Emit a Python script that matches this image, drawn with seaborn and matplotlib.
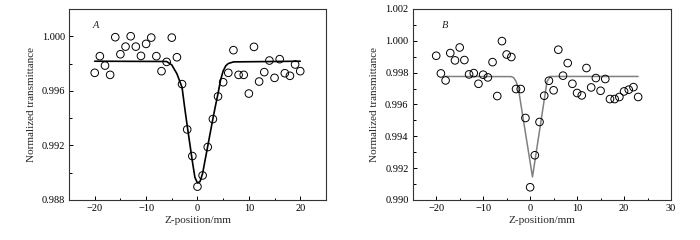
"""
Z-scan : transmittance normalisée, panneaux A et B
"""

import numpy as np
import pandas as pd
import matplotlib
matplotlib.use('Agg')
import matplotlib.pyplot as plt
from matplotlib.ticker import MultipleLocator, FixedLocator
import seaborn as sns

# =============================================================================
# DONNÉES
# =============================================================================

# Panneau A - points mesurés
z_a = list(range(-20, 21))
t_a = [0.99732, 0.99854, 0.99785, 0.99717, 0.99993, 0.99868, 0.99924, 1.00000,
       0.99924, 0.99856, 0.99944, 0.99990, 0.99854, 0.99744, 0.99812, 0.99990,
       0.99846, 0.99649, 0.99317, 0.99122, 0.98898, 0.98980, 0.99188, 0.99393,
       0.99559, 0.99663, 0.99732, 0.99898, 0.99717, 0.99717, 0.99580, 0.99922,
       0.99668, 0.99737, 0.99822, 0.99695, 0.99832, 0.99729, 0.99710, 0.99793,
       0.99744]

# Panneau A - courbe ajustée
fit_z_a = [-20, -6, -5, -4, -3, -2.5, -2, -1.5, -1, -0.5, 0, 0.5, 1, 1.5, 2,
           2.5, 3, 3.5, 4, 4.5, 5, 5.5, 6, 7, 20]
fit_t_a = [0.99817, 0.99815, 0.99790, 0.99725, 0.99625, 0.99480, 0.99345,
           0.99215, 0.99085, 0.98965, 0.98925, 0.98935, 0.98995, 0.99095,
           0.99195, 0.99295, 0.99395, 0.99490, 0.99580, 0.99680, 0.99745,
           0.99783, 0.99800, 0.99812, 0.99817]

# Panneau B - points mesurés
z_b = list(range(-20, 24))
t_b = [0.99906, 0.99795, 0.99751, 0.99923, 0.99877, 0.99958, 0.99879, 0.99789,
       0.99797, 0.99730, 0.99787, 0.99770, 0.99866, 0.99653, 0.99998, 0.99914,
       0.99898, 0.99697, 0.99697, 0.99515, 0.99080, 0.99281, 0.99490, 0.99655,
       0.99749, 0.99689, 0.99944, 0.99781, 0.99860, 0.99730, 0.99672, 0.99657,
       0.99829, 0.99707, 0.99766, 0.99686, 0.99760, 0.99634, 0.99634, 0.99647,
       0.99682, 0.99693, 0.99709, 0.99647]

# Panneau B - courbe ajustée
fit_z_b = [-18, -4, -3.5, -3, -2.5, 0.5, 3.6, 4.3, 23]
fit_t_b = [0.99776, 0.99775, 0.99768, 0.99745, 0.99700, 0.99145, 0.99745,
           0.99776, 0.99776]

# =============================================================================
# STYLE
# =============================================================================

sns.set_theme(style='ticks')
plt.rcParams['font.family'] = ['Liberation Serif', 'DejaVu Serif']
plt.rcParams['mathtext.fontset'] = 'stix'
plt.rcParams['axes.unicode_minus'] = True


def style_axes(ax, xlim, ylim, yticks, xmax_tick):
    ax.set_xlim(*xlim)
    ax.set_ylim(*ylim)
    ax.xaxis.set_major_locator(MultipleLocator(10))
    ax.xaxis.set_minor_locator(MultipleLocator(5))
    ax.yaxis.set_major_locator(FixedLocator(yticks))
    ax.yaxis.set_minor_locator(MultipleLocator((yticks[1] - yticks[0]) / 2))
    ax.set_xticks([t for t in range(-20, xmax_tick + 1, 10)])
    ax.set_yticklabels([f'{v:.3f}' for v in yticks])
    ax.set_xticklabels([f'{t}'.replace('-', '\u2212') for t in range(-20, xmax_tick + 1, 10)])
    ax.tick_params(axis='both', which='both', direction='in', top=False, right=False,
                   labelsize=7.5, width=0.7, colors='black', pad=3)
    ax.tick_params(axis='both', which='major', length=3)
    ax.tick_params(axis='both', which='minor', length=1.8)
    for sp in ax.spines.values():
        sp.set_visible(True)
        sp.set_linewidth(0.8)
        sp.set_color('#333333')
    ax.set_xlabel('Z-position/mm', fontsize=8, labelpad=2)
    ax.set_ylabel('Normalized transmittance', fontsize=8, labelpad=4)


fig = plt.figure(figsize=(7, 2.4), dpi=100)
ax_a = fig.add_axes([0.0986, 0.1667, 0.367, 0.796])
ax_b = fig.add_axes([0.5896, 0.1667, 0.369, 0.796])

# --- Panneau A
df_a = pd.DataFrame({'z': z_a, 't': t_a})
fit_a = pd.DataFrame({'z': fit_z_a, 't': fit_t_a})
sns.lineplot(data=fit_a, x='z', y='t', ax=ax_a, color='black', linewidth=1.2,
             sort=False, estimator=None)
sns.scatterplot(data=df_a, x='z', y='t', ax=ax_a, s=30, facecolor='none',
                edgecolor='black', linewidth=0.7, zorder=3)
style_axes(ax_a, (-25, 25), (0.988, 1.002), [0.988, 0.992, 0.996, 1.000], 20)
ax_a.text(0.093, 0.9, 'A', transform=ax_a.transAxes, fontsize=7.5, style='italic')

# --- Panneau B
df_b = pd.DataFrame({'z': z_b, 't': t_b})
fit_b = pd.DataFrame({'z': fit_z_b, 't': fit_t_b})
sns.lineplot(data=fit_b, x='z', y='t', ax=ax_b, color='#808080', linewidth=1.1,
             sort=False, estimator=None)
sns.scatterplot(data=df_b, x='z', y='t', ax=ax_b, s=30, facecolor='none',
                edgecolor='black', linewidth=0.7, zorder=3)
style_axes(ax_b, (-25, 30), (0.990, 1.002),
           [0.990, 0.992, 0.994, 0.996, 0.998, 1.000, 1.002], 30)
ax_b.text(0.112, 0.9, 'B', transform=ax_b.transAxes, fontsize=7.5, style='italic')

fig.savefig('out.png', dpi=100)
